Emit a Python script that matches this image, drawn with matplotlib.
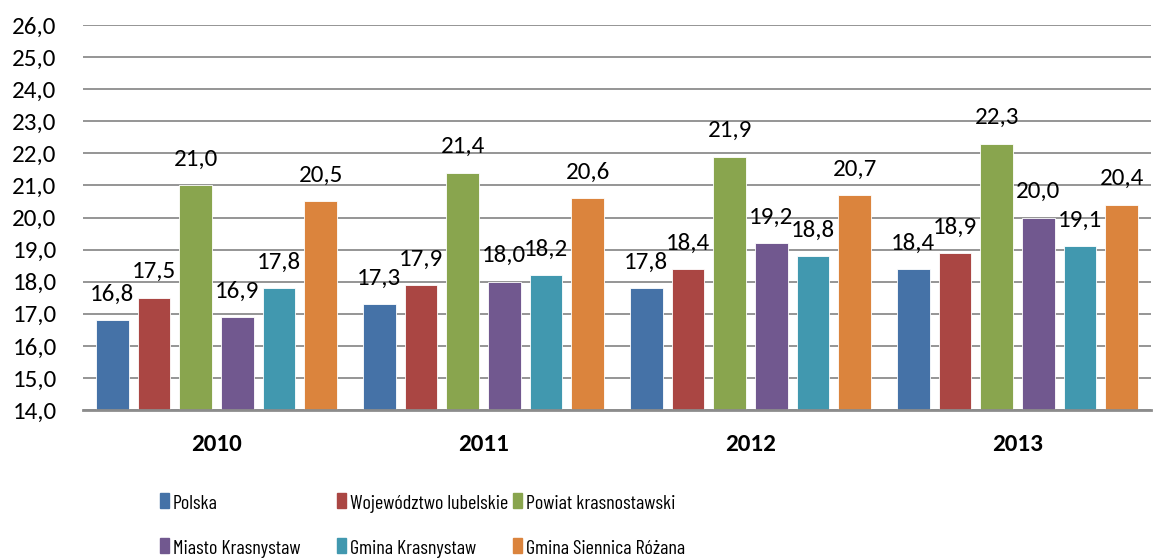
import matplotlib
matplotlib.use("Agg")
import matplotlib.pyplot as plt
from matplotlib.patches import Rectangle
import numpy as np

years = ["2010", "2011", "2012", "2013"]
series = ["Polska", "Województwo lubelskie", "Powiat krasnostawski",
          "Miasto Krasnystaw", "Gmina Krasnystaw", "Gmina Siennica Różana"]
polska = [16.8, 17.3, 17.8, 18.4]
lubelskie = [17.5, 17.9, 18.4, 18.9]
powiat = [21.0, 21.4, 21.9, 22.3]
miasto = [16.9, 18.0, 19.2, 20.0]
gmina_k = [17.8, 18.2, 18.8, 19.1]
gmina_s = [20.5, 20.6, 20.7, 20.4]
values = [polska, lubelskie, powiat, miasto, gmina_k, gmina_s]
colors = ["#4572A7", "#AA4643", "#89A54E", "#71588F", "#4198AF", "#DB843D"]

plt.rcParams["font.family"] = ["Carlito", "Lato", "DejaVu Sans"]
LEG_FONT = ["Barlow Condensed", "Carlito", "Lato", "DejaVu Sans"]
FS = 18
W, H = 1153, 559
fig = plt.figure(figsize=(W / 100, H / 100), dpi=100)
ax = fig.add_axes([83 / W, 1 - 410 / H, 1068 / W, 385 / H])

x = np.arange(len(years))
step, bw = 0.156, 0.122
for i, (vals, c) in enumerate(zip(values, colors)):
    pos = x + (i - 2.5) * step
    ax.bar(pos, [v - 14 for v in vals], bw, bottom=14, color=c,
           edgecolor="white", linewidth=0.6, zorder=3)
    for p, v in zip(pos, vals):
        ax.annotate(f"{v:.1f}".replace(".", ","), (p, v), xytext=(0, 14),
                    textcoords="offset points", ha="center", va="baseline",
                    fontsize=FS, color="black", zorder=4)

ax.set_xlim(-0.5, 3.5)
ax.set_ylim(14, 26)
ax.set_yticks(np.arange(14, 27, 1))
ax.set_yticklabels([f"{v:.1f}".replace(".", ",") for v in np.arange(14, 27, 1)])
ax.set_xticks(x, years, fontweight="bold")
ax.tick_params(axis="x", length=0, pad=17, labelsize=FS)
ax.tick_params(axis="y", length=0, pad=19, labelsize=FS)
ax.grid(axis="y", color="#8c8c8c", lw=1.3, zorder=0)
for s in ["top", "right", "left"]:
    ax.spines[s].set_visible(False)
ax.spines["bottom"].set_color("#8c8c8c")
ax.spines["bottom"].set_linewidth(2)
ax.spines["bottom"].set_zorder(5)

# legend: 3 equal columns, 2 rows
col_x = [160, 337, 513]
row_base = [509, 554]
for k, (name, c) in enumerate(zip(series, colors)):
    px, py = col_x[k % 3], row_base[k // 3]
    fig.patches.append(Rectangle((px / W, 1 - (py - 1) / H), 9 / W, 15 / H,
                                 transform=fig.transFigure, color=c))
    fig.text((px + 13) / W, 1 - py / H, name, fontsize=14.5, va="baseline",
             ha="left", family=LEG_FONT)

fig.savefig("out.png", dpi=100)
